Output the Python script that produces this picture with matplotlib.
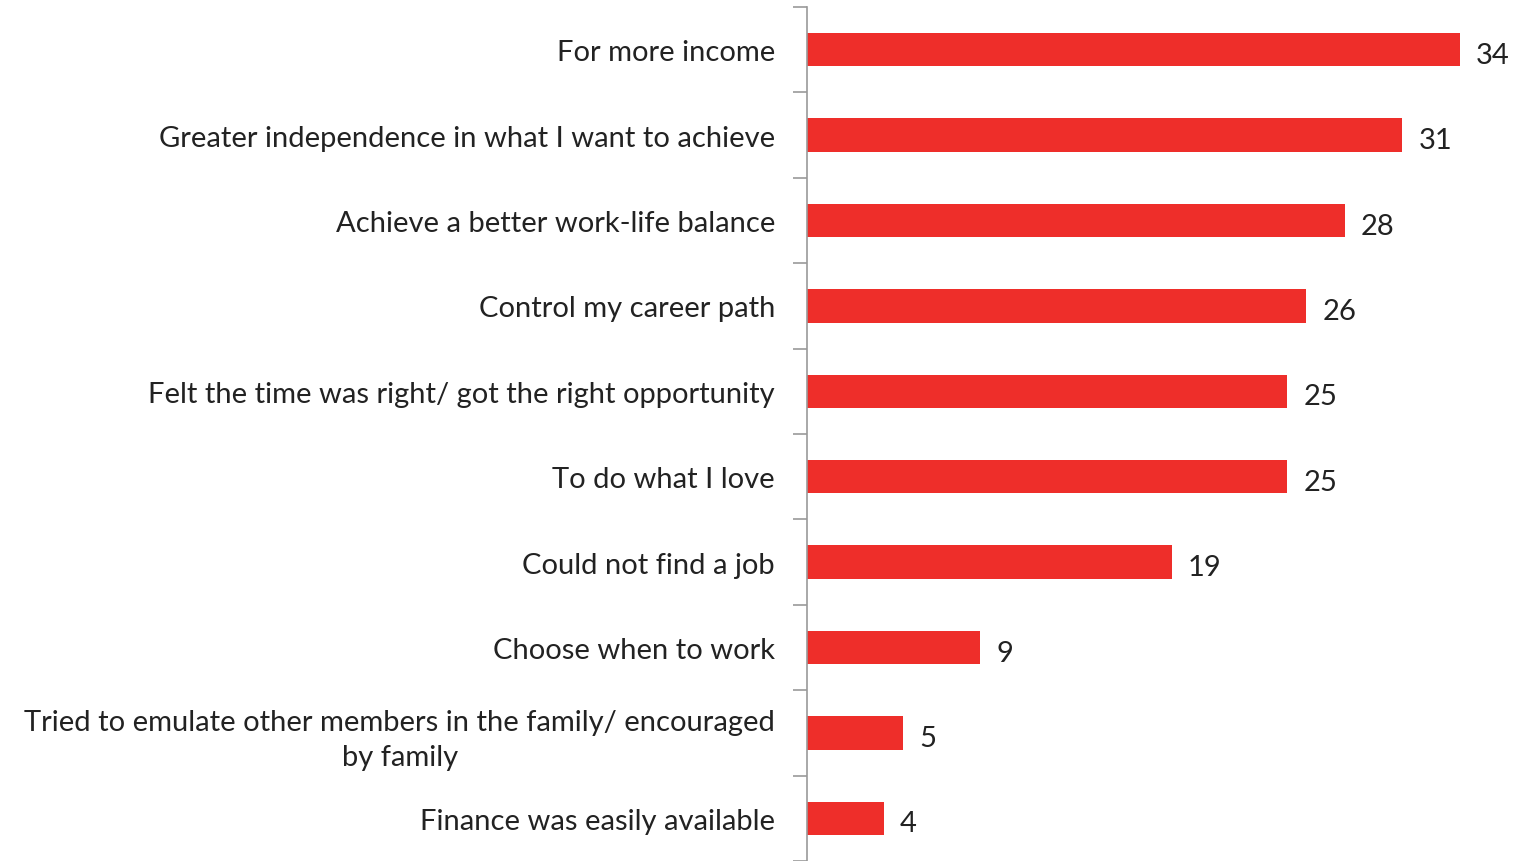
import numpy as np
import matplotlib.pyplot as plt
from matplotlib.ticker import FixedLocator

reasons = [
    'For more income',
    'Greater independence in what I want to achieve',
    'Achieve a better work-life balance',
    'Control my career path',
    'Felt the time was right/ got the right opportunity',
    'To do what I love',
    'Could not find a job',
    'Choose when to work',
    'Tried to emulate other members in the family/ encouraged\nby family',
    'Finance was easily available',
]
values = [34, 31, 28, 26, 25, 25, 19, 9, 5, 4]

plt.rcParams['font.family'] = ['Lato', 'DejaVu Sans']

fig = plt.figure(figsize=(15.16, 8.62), dpi=100)
ax = fig.add_axes([807 / 1516, 0, 709 / 1516, 1 - 8 / 862])

y = np.arange(len(reasons))
ax.barh(y, values, height=0.39, color='#EE2E2A')
ax.set_ylim(len(reasons) - 0.5, -0.5)
ax.set_xlim(0, 709 / 19.2)

for yi, v in zip(y, values):
    ax.text(v + 0.85, yi + 0.03, str(v), va='center_baseline', ha='left',
            fontsize=21, color='#222222')

ax.set_yticks(y)
ax.set_yticklabels(reasons, fontsize=21, color='#222222',
                   multialignment='center', linespacing=1.4)
ax.tick_params(axis='y', which='major', length=0, pad=23)
ax.yaxis.set_minor_locator(FixedLocator(np.arange(-0.5, len(reasons), 1.0)))
ax.tick_params(axis='y', which='minor', length=10, width=1.2, color='#999999')

ax.set_xticks([])
for s in ['top', 'right', 'bottom']:
    ax.spines[s].set_visible(False)
ax.spines['left'].set_color('#999999')
ax.spines['left'].set_linewidth(1.2)

plt.savefig('out.png', dpi=100)
